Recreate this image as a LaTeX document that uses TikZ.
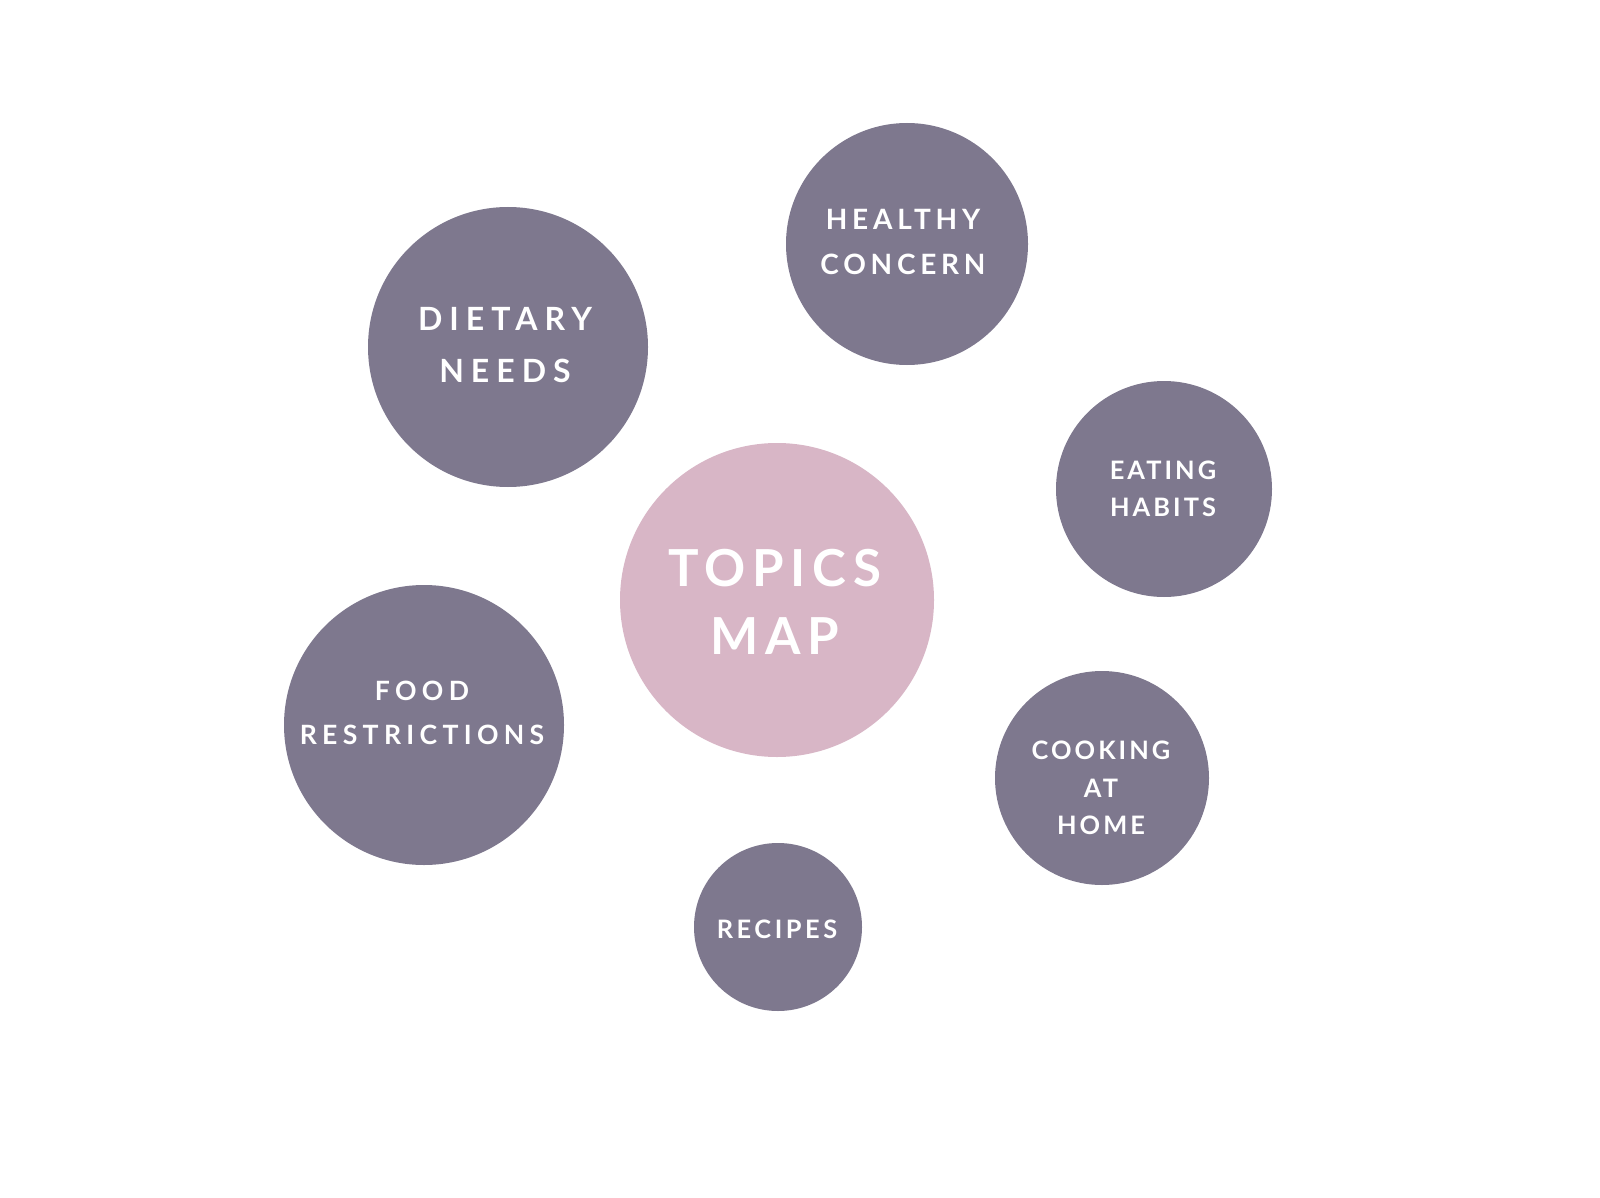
\documentclass[tikz,border=0pt]{standalone}
\usepackage{fontspec}
\newfontfamily\latofont{Lato}[LetterSpace=12]

\definecolor{plum}{HTML}{7E788E}
\definecolor{rose}{HTML}{D8B6C6}

\begin{document}
\begin{tikzpicture}[
  x=0.5pt,
  y=-0.5pt,
  bubble/.style={
    circle,
    fill=plum,
    draw=none,
    inner sep=0pt
  },
  hub/.style={
    bubble,
    fill=rose
  },
  caption/.style={
    text=white,
    align=center,
    inner sep=0pt
  }
]

\path[use as bounding box] (0,0) rectangle (1600,1198);

% circles
\node[hub,    minimum size=157pt] (topics)  at (777,600) {};
\node[bubble, minimum size=140pt] (dietary) at (508,347) {};
\node[bubble, minimum size=121pt] (healthy) at (907,244) {};
\node[bubble, minimum size=108pt] (eating)  at (1164,489) {};
\node[bubble, minimum size=140pt] (food)    at (424,725) {};
\node[bubble, minimum size=107pt] (cooking) at (1102,778) {};
\node[bubble, minimum size=84pt]  (recipes) at (778,927) {};

% words
\node[caption, font=\latofont\bfseries\addfontfeature{LetterSpace=13}\fontsize{25.5}{34}\selectfont]
  (topics-txt) at (775,602) {TOPICS\\MAP};
\node[caption, font=\latofont\bfseries\addfontfeature{LetterSpace=22}\fontsize{16}{26.3}\selectfont]
  (dietary-txt) at (505,345) {DIETARY\\NEEDS};
\node[caption, font=\latofont\bfseries\addfontfeature{LetterSpace=17}\fontsize{14}{22.5}\selectfont]
  (healthy-txt) at (903,242) {HEALTHY\\CONCERN};
\node[caption, font=\latofont\bfseries\fontsize{12.7}{18.5}\selectfont]
  (eating-txt) at (1163,489) {EATING\\HABITS};
\node[caption, font=\latofont\bfseries\addfontfeature{LetterSpace=20}\fontsize{13.3}{22}\selectfont]
  (food-txt) at (422,713) {FOOD\\RESTRICTIONS};
\node[caption, font=\latofont\bfseries\fontsize{12.7}{18.7}\selectfont]
  (cooking-txt) at (1101,788) {COOKING\\AT\\HOME};
\node[caption, font=\latofont\bfseries\addfontfeature{LetterSpace=14}\fontsize{12.7}{18.7}\selectfont]
  (recipes-txt) at (777,929) {RECIPES};

\end{tikzpicture}
\end{document}
